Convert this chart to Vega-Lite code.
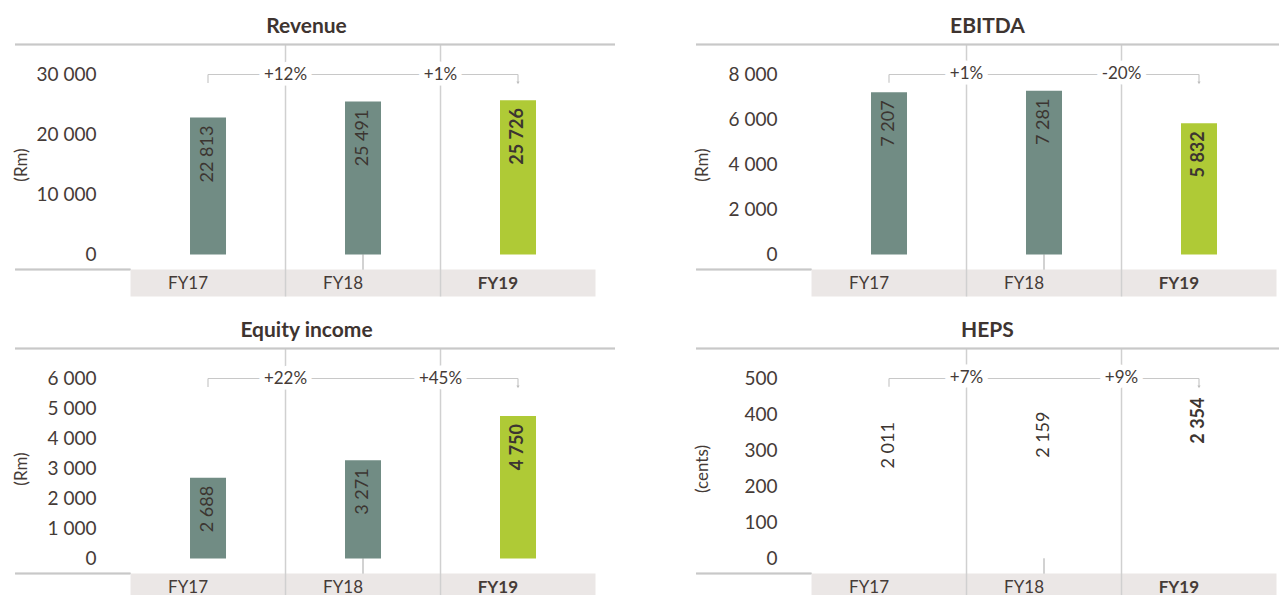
{
  "$schema": "https://vega.github.io/schema/vega-lite/v6.json",
  "padding": {"left": 12, "top": 15.5, "right": 0, "bottom": 0},
  "spacing": 22,
  "config": {
    "view": {"stroke": null},
    "font": "Lato",
    "locale": {"number": {"decimal": ".", "thousands": " ", "grouping": [3], "currency": ["", ""]}}
  },
  "datasets": {
    "revenue": [
      {"cat": "FY17", "v": 22813, "pct": null},
      {"cat": "FY18", "v": 25491, "pct": "+12%"},
      {"cat": "FY19", "v": 25726, "pct": "+1%"}
    ],
    "ebitda": [
      {"cat": "FY17", "v": 7207, "pct": null},
      {"cat": "FY18", "v": 7281, "pct": "+1%"},
      {"cat": "FY19", "v": 5832, "pct": "-20%"}
    ],
    "equity": [
      {"cat": "FY17", "v": 2688, "pct": null},
      {"cat": "FY18", "v": 3271, "pct": "+22%"},
      {"cat": "FY19", "v": 4750, "pct": "+45%"}
    ],
    "heps": [
      {"cat": "FY17", "v": 2011, "pct": null},
      {"cat": "FY18", "v": 2159, "pct": "+7%"},
      {"cat": "FY19", "v": 2354, "pct": "+9%"}
    ]
  },
  "vconcat": [
    {
      "hconcat": [
        {
          "width": 600, "height": 252,
          "data": {"name": "revenue"},
          "title": {"text": "Revenue", "anchor": "middle", "frame": "group", "dx": -8.5, "offset": -4, "baseline": "middle", "fontSize": 21, "fontWeight": "bold", "color": "#3e3430", "font": "Lato"},
          "layer": [
            {"mark": {"type": "rule", "color": "#c8c8c8", "strokeWidth": 1.3},
             "encoding": {"x": {"datum": "FY17", "type": "nominal", "bandPosition": -0.745}, "x2": {"datum": "FY17", "bandPosition": 0}, "y": {"datum": -2500, "type": "quantitative"}}},
            {"mark": {"type": "rect", "color": "#ebe7e6"},
             "encoding": {
               "x": {"field": "cat", "type": "nominal", "scale": {"domain": ["FY17", "FY18", "FY19"], "paddingInner": 0, "paddingOuter": 0.4355, "align": 0.8556},
                     "axis": {"orient": "bottom", "zindex": 2, "title": null, "domain": false, "ticks": false, "tickSize": 0, "grid": false, "labelPadding": 0, "offset": -13, "labelBaseline": "middle", "labelAngle": 0, "labelFontSize": 17, "labelColor": "#453b37", "labelFontWeight": {"condition": {"test": "datum.value === 'FY19'", "value": "bold"}, "value": "normal"}}},
               "y": {"datum": -2500, "type": "quantitative", "scale": {"domain": [-7000, 35000], "nice": false, "zero": false},
                     "axis": {"title": "(Rm)", "values": [0, 10000, 20000, 30000], "format": ",d", "domain": false, "ticks": false, "tickSize": 0, "grid": false, "labelPadding": 0, "offset": -81, "labelFontSize": 19, "labelFontWeight": "normal", "labelColor": "#453b37", "labelBaseline": "middle", "labelFlush": false, "labelOverlap": false, "titleX": -75, "titleY": 120, "titleAngle": 270, "titleAlign": "center", "titleBaseline": "middle", "titleFontSize": 17, "titleFontWeight": "normal", "titleColor": "#453b37"}},
               "y2": {"datum": -7000}}},
            {"transform": [{"filter": "datum.cat !== 'FY17'"}], "mark": {"type": "rule", "color": "#d0d0d0", "strokeWidth": 1.5},
             "encoding": {"x": {"field": "cat", "type": "nominal", "bandPosition": 0}}},
            {"mark": {"type": "rule", "color": "#d0d0d0", "strokeWidth": 1.3},
             "encoding": {"x": {"datum": "FY18", "type": "nominal"}, "y": {"datum": 0, "type": "quantitative"}, "y2": {"datum": -2500}}},
            {"mark": {"type": "rule", "color": "#c8c8c8", "strokeWidth": 1.2},
             "encoding": {"x": {"datum": "FY17", "type": "nominal"}, "x2": {"datum": "FY19"}, "y": {"datum": 30000, "type": "quantitative"}}},
            {"transform": [{"filter": "datum.cat !== 'FY18'"}], "mark": {"type": "rule", "color": "#c8c8c8", "strokeWidth": 1.2},
             "encoding": {"x": {"field": "cat", "type": "nominal"}, "y": {"datum": 30000, "type": "quantitative"}, "y2": {"datum": 28600}}},
            {"transform": [{"filter": "datum.cat === 'FY19'"}], "mark": {"type": "point", "shape": "triangle-down", "size": 10, "filled": true, "color": "#bdbdbd", "opacity": 1},
             "encoding": {"x": {"field": "cat", "type": "nominal"}, "y": {"datum": 28600, "type": "quantitative"}}},
            {"transform": [{"filter": "datum.pct != null"}], "mark": {"type": "text", "fontSize": 17, "fill": "white", "stroke": "white", "strokeWidth": 11, "strokeJoin": "round"},
             "encoding": {"x": {"field": "cat", "type": "nominal", "bandPosition": 0}, "y": {"datum": 30000, "type": "quantitative"}, "text": {"field": "pct"}}},
            {"transform": [{"filter": "datum.pct != null"}], "mark": {"type": "text", "fontSize": 17, "color": "#453b37", "fontWeight": "normal"},
             "encoding": {"x": {"field": "cat", "type": "nominal", "bandPosition": 0}, "y": {"datum": 30000, "type": "quantitative"}, "text": {"field": "pct"}}},
            {"mark": {"type": "bar", "width": 36},
             "encoding": {"x": {"field": "cat", "type": "nominal"}, "y": {"field": "v", "type": "quantitative"}, "color": {"condition": {"test": "datum.cat === 'FY19'", "value": "#afca36"}, "value": "#718c84"}}},
            {"transform": [{"filter": "datum.cat !== 'FY19'"}], "mark": {"type": "text", "angle": 270, "align": "right", "baseline": "middle", "dx": -8, "fontSize": 18, "fontWeight": "normal", "color": "#3c3531"},
             "encoding": {"x": {"field": "cat", "type": "nominal"}, "y": {"field": "v", "type": "quantitative"}, "text": {"field": "v", "type": "quantitative", "format": ","}}},
            {"transform": [{"filter": "datum.cat === 'FY19'"}], "mark": {"type": "text", "angle": 270, "align": "right", "baseline": "middle", "dx": -8, "fontSize": 18, "fontWeight": "bold", "color": "#3c3531"},
             "encoding": {"x": {"field": "cat", "type": "nominal"}, "y": {"field": "v", "type": "quantitative"}, "text": {"field": "v", "type": "quantitative", "format": ","}}},
            {"mark": {"type": "rule", "color": "#c8c8c8", "strokeWidth": 1.3},
             "encoding": {"y": {"datum": 35000, "type": "quantitative"}}}
          ]
        },
        {
          "width": 600, "height": 252,
          "data": {"name": "ebitda"},
          "title": {"text": "EBITDA", "anchor": "middle", "frame": "group", "dx": -8.5, "offset": -4, "baseline": "middle", "fontSize": 21, "fontWeight": "bold", "color": "#3e3430", "font": "Lato"},
          "layer": [
            {"mark": {"type": "rule", "color": "#c8c8c8", "strokeWidth": 1.3},
             "encoding": {"x": {"datum": "FY17", "type": "nominal", "bandPosition": -0.745}, "x2": {"datum": "FY17", "bandPosition": 0}, "y": {"datum": -667, "type": "quantitative"}}},
            {"mark": {"type": "rect", "color": "#ebe7e6"},
             "encoding": {
               "x": {"field": "cat", "type": "nominal", "scale": {"domain": ["FY17", "FY18", "FY19"], "paddingInner": 0, "paddingOuter": 0.4355, "align": 0.8556},
                     "axis": {"orient": "bottom", "zindex": 2, "title": null, "domain": false, "ticks": false, "tickSize": 0, "grid": false, "labelPadding": 0, "offset": -13, "labelBaseline": "middle", "labelAngle": 0, "labelFontSize": 17, "labelColor": "#453b37", "labelFontWeight": {"condition": {"test": "datum.value === 'FY19'", "value": "bold"}, "value": "normal"}}},
               "y": {"datum": -667, "type": "quantitative", "scale": {"domain": [-1866.67, 9333.33], "nice": false, "zero": false},
                     "axis": {"title": "(Rm)", "values": [0, 2000, 4000, 6000, 8000], "format": ",d", "domain": false, "ticks": false, "tickSize": 0, "grid": false, "labelPadding": 0, "offset": -81, "labelFontSize": 19, "labelFontWeight": "normal", "labelColor": "#453b37", "labelBaseline": "middle", "labelFlush": false, "labelOverlap": false, "titleX": -75, "titleY": 120, "titleAngle": 270, "titleAlign": "center", "titleBaseline": "middle", "titleFontSize": 17, "titleFontWeight": "normal", "titleColor": "#453b37"}},
               "y2": {"datum": -1866.67}}},
            {"transform": [{"filter": "datum.cat !== 'FY17'"}], "mark": {"type": "rule", "color": "#d0d0d0", "strokeWidth": 1.5},
             "encoding": {"x": {"field": "cat", "type": "nominal", "bandPosition": 0}}},
            {"mark": {"type": "rule", "color": "#d0d0d0", "strokeWidth": 1.3},
             "encoding": {"x": {"datum": "FY18", "type": "nominal"}, "y": {"datum": 0, "type": "quantitative"}, "y2": {"datum": -667}}},
            {"mark": {"type": "rule", "color": "#c8c8c8", "strokeWidth": 1.2},
             "encoding": {"x": {"datum": "FY17", "type": "nominal"}, "x2": {"datum": "FY19"}, "y": {"datum": 8000, "type": "quantitative"}}},
            {"transform": [{"filter": "datum.cat !== 'FY18'"}], "mark": {"type": "rule", "color": "#c8c8c8", "strokeWidth": 1.2},
             "encoding": {"x": {"field": "cat", "type": "nominal"}, "y": {"datum": 8000, "type": "quantitative"}, "y2": {"datum": 7630}}},
            {"transform": [{"filter": "datum.cat === 'FY19'"}], "mark": {"type": "point", "shape": "triangle-down", "size": 10, "filled": true, "color": "#bdbdbd", "opacity": 1},
             "encoding": {"x": {"field": "cat", "type": "nominal"}, "y": {"datum": 7630, "type": "quantitative"}}},
            {"transform": [{"filter": "datum.pct != null"}], "mark": {"type": "text", "fontSize": 17, "fill": "white", "stroke": "white", "strokeWidth": 11, "strokeJoin": "round"},
             "encoding": {"x": {"field": "cat", "type": "nominal", "bandPosition": 0}, "y": {"datum": 8000, "type": "quantitative"}, "text": {"field": "pct"}}},
            {"transform": [{"filter": "datum.pct != null"}], "mark": {"type": "text", "fontSize": 17, "color": "#453b37", "fontWeight": "normal"},
             "encoding": {"x": {"field": "cat", "type": "nominal", "bandPosition": 0}, "y": {"datum": 8000, "type": "quantitative"}, "text": {"field": "pct"}}},
            {"mark": {"type": "bar", "width": 36},
             "encoding": {"x": {"field": "cat", "type": "nominal"}, "y": {"field": "v", "type": "quantitative"}, "color": {"condition": {"test": "datum.cat === 'FY19'", "value": "#afca36"}, "value": "#718c84"}}},
            {"transform": [{"filter": "datum.cat !== 'FY19'"}], "mark": {"type": "text", "angle": 270, "align": "right", "baseline": "middle", "dx": -8, "fontSize": 18, "fontWeight": "normal", "color": "#3c3531"},
             "encoding": {"x": {"field": "cat", "type": "nominal"}, "y": {"field": "v", "type": "quantitative"}, "text": {"field": "v", "type": "quantitative", "format": ","}}},
            {"transform": [{"filter": "datum.cat === 'FY19'"}], "mark": {"type": "text", "angle": 270, "align": "right", "baseline": "middle", "dx": -8, "fontSize": 18, "fontWeight": "bold", "color": "#3c3531"},
             "encoding": {"x": {"field": "cat", "type": "nominal"}, "y": {"field": "v", "type": "quantitative"}, "text": {"field": "v", "type": "quantitative", "format": ","}}},
            {"mark": {"type": "rule", "color": "#c8c8c8", "strokeWidth": 1.3},
             "encoding": {"y": {"datum": 9333.33, "type": "quantitative"}}}
          ]
        }
      ],
      "spacing": 81,
      "bounds": "flush"
    },
    {
      "hconcat": [
        {
          "width": 600, "height": 252,
          "data": {"name": "equity"},
          "title": {"text": "Equity income", "anchor": "middle", "frame": "group", "dx": -8.5, "offset": -4, "baseline": "middle", "fontSize": 21, "fontWeight": "bold", "color": "#3e3430", "font": "Lato"},
          "layer": [
            {"mark": {"type": "rule", "color": "#c8c8c8", "strokeWidth": 1.3},
             "encoding": {"x": {"datum": "FY17", "type": "nominal", "bandPosition": -0.745}, "x2": {"datum": "FY17", "bandPosition": 0}, "y": {"datum": -500, "type": "quantitative"}}},
            {"mark": {"type": "rect", "color": "#ebe7e6"},
             "encoding": {
               "x": {"field": "cat", "type": "nominal", "scale": {"domain": ["FY17", "FY18", "FY19"], "paddingInner": 0, "paddingOuter": 0.4355, "align": 0.8556},
                     "axis": {"orient": "bottom", "zindex": 2, "title": null, "domain": false, "ticks": false, "tickSize": 0, "grid": false, "labelPadding": 0, "offset": -13, "labelBaseline": "middle", "labelAngle": 0, "labelFontSize": 17, "labelColor": "#453b37", "labelFontWeight": {"condition": {"test": "datum.value === 'FY19'", "value": "bold"}, "value": "normal"}}},
               "y": {"datum": -500, "type": "quantitative", "scale": {"domain": [-1400, 7000], "nice": false, "zero": false},
                     "axis": {"title": "(Rm)", "values": [0, 1000, 2000, 3000, 4000, 5000, 6000], "format": ",d", "domain": false, "ticks": false, "tickSize": 0, "grid": false, "labelPadding": 0, "offset": -81, "labelFontSize": 19, "labelFontWeight": "normal", "labelColor": "#453b37", "labelBaseline": "middle", "labelFlush": false, "labelOverlap": false, "titleX": -75, "titleY": 120, "titleAngle": 270, "titleAlign": "center", "titleBaseline": "middle", "titleFontSize": 17, "titleFontWeight": "normal", "titleColor": "#453b37"}},
               "y2": {"datum": -1400}}},
            {"transform": [{"filter": "datum.cat !== 'FY17'"}], "mark": {"type": "rule", "color": "#d0d0d0", "strokeWidth": 1.5},
             "encoding": {"x": {"field": "cat", "type": "nominal", "bandPosition": 0}}},
            {"mark": {"type": "rule", "color": "#d0d0d0", "strokeWidth": 1.3},
             "encoding": {"x": {"datum": "FY18", "type": "nominal"}, "y": {"datum": 0, "type": "quantitative"}, "y2": {"datum": -500}}},
            {"mark": {"type": "rule", "color": "#c8c8c8", "strokeWidth": 1.2},
             "encoding": {"x": {"datum": "FY17", "type": "nominal"}, "x2": {"datum": "FY19"}, "y": {"datum": 6000, "type": "quantitative"}}},
            {"transform": [{"filter": "datum.cat !== 'FY18'"}], "mark": {"type": "rule", "color": "#c8c8c8", "strokeWidth": 1.2},
             "encoding": {"x": {"field": "cat", "type": "nominal"}, "y": {"datum": 6000, "type": "quantitative"}, "y2": {"datum": 5720}}},
            {"transform": [{"filter": "datum.cat === 'FY19'"}], "mark": {"type": "point", "shape": "triangle-down", "size": 10, "filled": true, "color": "#bdbdbd", "opacity": 1},
             "encoding": {"x": {"field": "cat", "type": "nominal"}, "y": {"datum": 5720, "type": "quantitative"}}},
            {"transform": [{"filter": "datum.pct != null"}], "mark": {"type": "text", "fontSize": 17, "fill": "white", "stroke": "white", "strokeWidth": 11, "strokeJoin": "round"},
             "encoding": {"x": {"field": "cat", "type": "nominal", "bandPosition": 0}, "y": {"datum": 6000, "type": "quantitative"}, "text": {"field": "pct"}}},
            {"transform": [{"filter": "datum.pct != null"}], "mark": {"type": "text", "fontSize": 17, "color": "#453b37", "fontWeight": "normal"},
             "encoding": {"x": {"field": "cat", "type": "nominal", "bandPosition": 0}, "y": {"datum": 6000, "type": "quantitative"}, "text": {"field": "pct"}}},
            {"mark": {"type": "bar", "width": 36},
             "encoding": {"x": {"field": "cat", "type": "nominal"}, "y": {"field": "v", "type": "quantitative"}, "color": {"condition": {"test": "datum.cat === 'FY19'", "value": "#afca36"}, "value": "#718c84"}}},
            {"transform": [{"filter": "datum.cat !== 'FY19'"}], "mark": {"type": "text", "angle": 270, "align": "right", "baseline": "middle", "dx": -8, "fontSize": 18, "fontWeight": "normal", "color": "#3c3531"},
             "encoding": {"x": {"field": "cat", "type": "nominal"}, "y": {"field": "v", "type": "quantitative"}, "text": {"field": "v", "type": "quantitative", "format": ","}}},
            {"transform": [{"filter": "datum.cat === 'FY19'"}], "mark": {"type": "text", "angle": 270, "align": "right", "baseline": "middle", "dx": -8, "fontSize": 18, "fontWeight": "bold", "color": "#3c3531"},
             "encoding": {"x": {"field": "cat", "type": "nominal"}, "y": {"field": "v", "type": "quantitative"}, "text": {"field": "v", "type": "quantitative", "format": ","}}},
            {"mark": {"type": "rule", "color": "#c8c8c8", "strokeWidth": 1.3},
             "encoding": {"y": {"datum": 7000, "type": "quantitative"}}}
          ]
        },
        {
          "width": 600, "height": 252,
          "data": {"name": "heps"},
          "title": {"text": "HEPS", "anchor": "middle", "frame": "group", "dx": -8.5, "offset": -4, "baseline": "middle", "fontSize": 21, "fontWeight": "bold", "color": "#3e3430", "font": "Lato"},
          "resolve": {"scale": {"y": "independent"}},
          "layer": [
            {
              "layer": [
                {"mark": {"type": "rule", "color": "#c8c8c8", "strokeWidth": 1.3},
                 "encoding": {"x": {"datum": "FY17", "type": "nominal", "bandPosition": -0.745}, "x2": {"datum": "FY17", "bandPosition": 0}, "y": {"datum": -41.7, "type": "quantitative"}}},
                {"mark": {"type": "rect", "color": "#ebe7e6"},
                 "encoding": {
                   "x": {"field": "cat", "type": "nominal", "scale": {"domain": ["FY17", "FY18", "FY19"], "paddingInner": 0, "paddingOuter": 0.4355, "align": 0.8556},
                         "axis": {"orient": "bottom", "zindex": 2, "title": null, "domain": false, "ticks": false, "tickSize": 0, "grid": false, "labelPadding": 0, "offset": -13, "labelBaseline": "middle", "labelAngle": 0, "labelFontSize": 17, "labelColor": "#453b37", "labelFontWeight": {"condition": {"test": "datum.value === 'FY19'", "value": "bold"}, "value": "normal"}}},
                   "y": {"datum": -41.7, "type": "quantitative", "scale": {"domain": [-116.67, 583.33], "nice": false, "zero": false},
                         "axis": {"title": "(cents)", "values": [0, 100, 200, 300, 400, 500], "format": ",d", "domain": false, "ticks": false, "tickSize": 0, "grid": false, "labelPadding": 0, "offset": -81, "labelFontSize": 19, "labelFontWeight": "normal", "labelColor": "#453b37", "labelBaseline": "middle", "labelFlush": false, "labelOverlap": false, "titleX": -75, "titleY": 120, "titleAngle": 270, "titleAlign": "center", "titleBaseline": "middle", "titleFontSize": 17, "titleFontWeight": "normal", "titleColor": "#453b37"}},
                   "y2": {"datum": -116.67}}},
                {"transform": [{"filter": "datum.cat !== 'FY17'"}], "mark": {"type": "rule", "color": "#d0d0d0", "strokeWidth": 1.5},
                 "encoding": {"x": {"field": "cat", "type": "nominal", "bandPosition": 0}}},
                {"mark": {"type": "rule", "color": "#d0d0d0", "strokeWidth": 1.3},
                 "encoding": {"x": {"datum": "FY18", "type": "nominal"}, "y": {"datum": 0, "type": "quantitative"}, "y2": {"datum": -41.7}}},
                {"mark": {"type": "rule", "color": "#c8c8c8", "strokeWidth": 1.2},
                 "encoding": {"x": {"datum": "FY17", "type": "nominal"}, "x2": {"datum": "FY19"}, "y": {"datum": 500, "type": "quantitative"}}},
                {"transform": [{"filter": "datum.cat !== 'FY18'"}], "mark": {"type": "rule", "color": "#c8c8c8", "strokeWidth": 1.2},
                 "encoding": {"x": {"field": "cat", "type": "nominal"}, "y": {"datum": 500, "type": "quantitative"}, "y2": {"datum": 477}}},
                {"transform": [{"filter": "datum.cat === 'FY19'"}], "mark": {"type": "point", "shape": "triangle-down", "size": 10, "filled": true, "color": "#bdbdbd", "opacity": 1},
                 "encoding": {"x": {"field": "cat", "type": "nominal"}, "y": {"datum": 477, "type": "quantitative"}}},
                {"transform": [{"filter": "datum.pct != null"}], "mark": {"type": "text", "fontSize": 17, "fill": "white", "stroke": "white", "strokeWidth": 11, "strokeJoin": "round"},
                 "encoding": {"x": {"field": "cat", "type": "nominal", "bandPosition": 0}, "y": {"datum": 500, "type": "quantitative"}, "text": {"field": "pct"}}},
                {"transform": [{"filter": "datum.pct != null"}], "mark": {"type": "text", "fontSize": 17, "color": "#453b37", "fontWeight": "normal"},
                 "encoding": {"x": {"field": "cat", "type": "nominal", "bandPosition": 0}, "y": {"datum": 500, "type": "quantitative"}, "text": {"field": "pct"}}},
                {"mark": {"type": "rule", "color": "#c8c8c8", "strokeWidth": 1.3},
                 "encoding": {"y": {"datum": 583.33, "type": "quantitative"}}}
              ]
            },
            {
              "layer": [
                {"transform": [{"filter": "datum.cat !== 'FY19'"}], "mark": {"type": "text", "angle": 270, "align": "right", "baseline": "middle", "dx": -8, "fontSize": 18, "fontWeight": "normal", "color": "#3c3531"},
                 "encoding": {"x": {"field": "cat", "type": "nominal"}, "y": {"field": "v", "type": "quantitative", "scale": {"domain": [-585, 2925], "nice": false, "zero": false}, "axis": null}, "text": {"field": "v", "type": "quantitative", "format": ","}}},
                {"transform": [{"filter": "datum.cat === 'FY19'"}], "mark": {"type": "text", "angle": 270, "align": "right", "baseline": "middle", "dx": -8, "fontSize": 18, "fontWeight": "bold", "color": "#3c3531"},
                 "encoding": {"x": {"field": "cat", "type": "nominal"}, "y": {"field": "v", "type": "quantitative", "scale": {"domain": [-585, 2925], "nice": false, "zero": false}, "axis": null}, "text": {"field": "v", "type": "quantitative", "format": ","}}}
              ]
            }
          ]
        }
      ],
      "spacing": 81,
      "bounds": "flush"
    }
  ]
}
